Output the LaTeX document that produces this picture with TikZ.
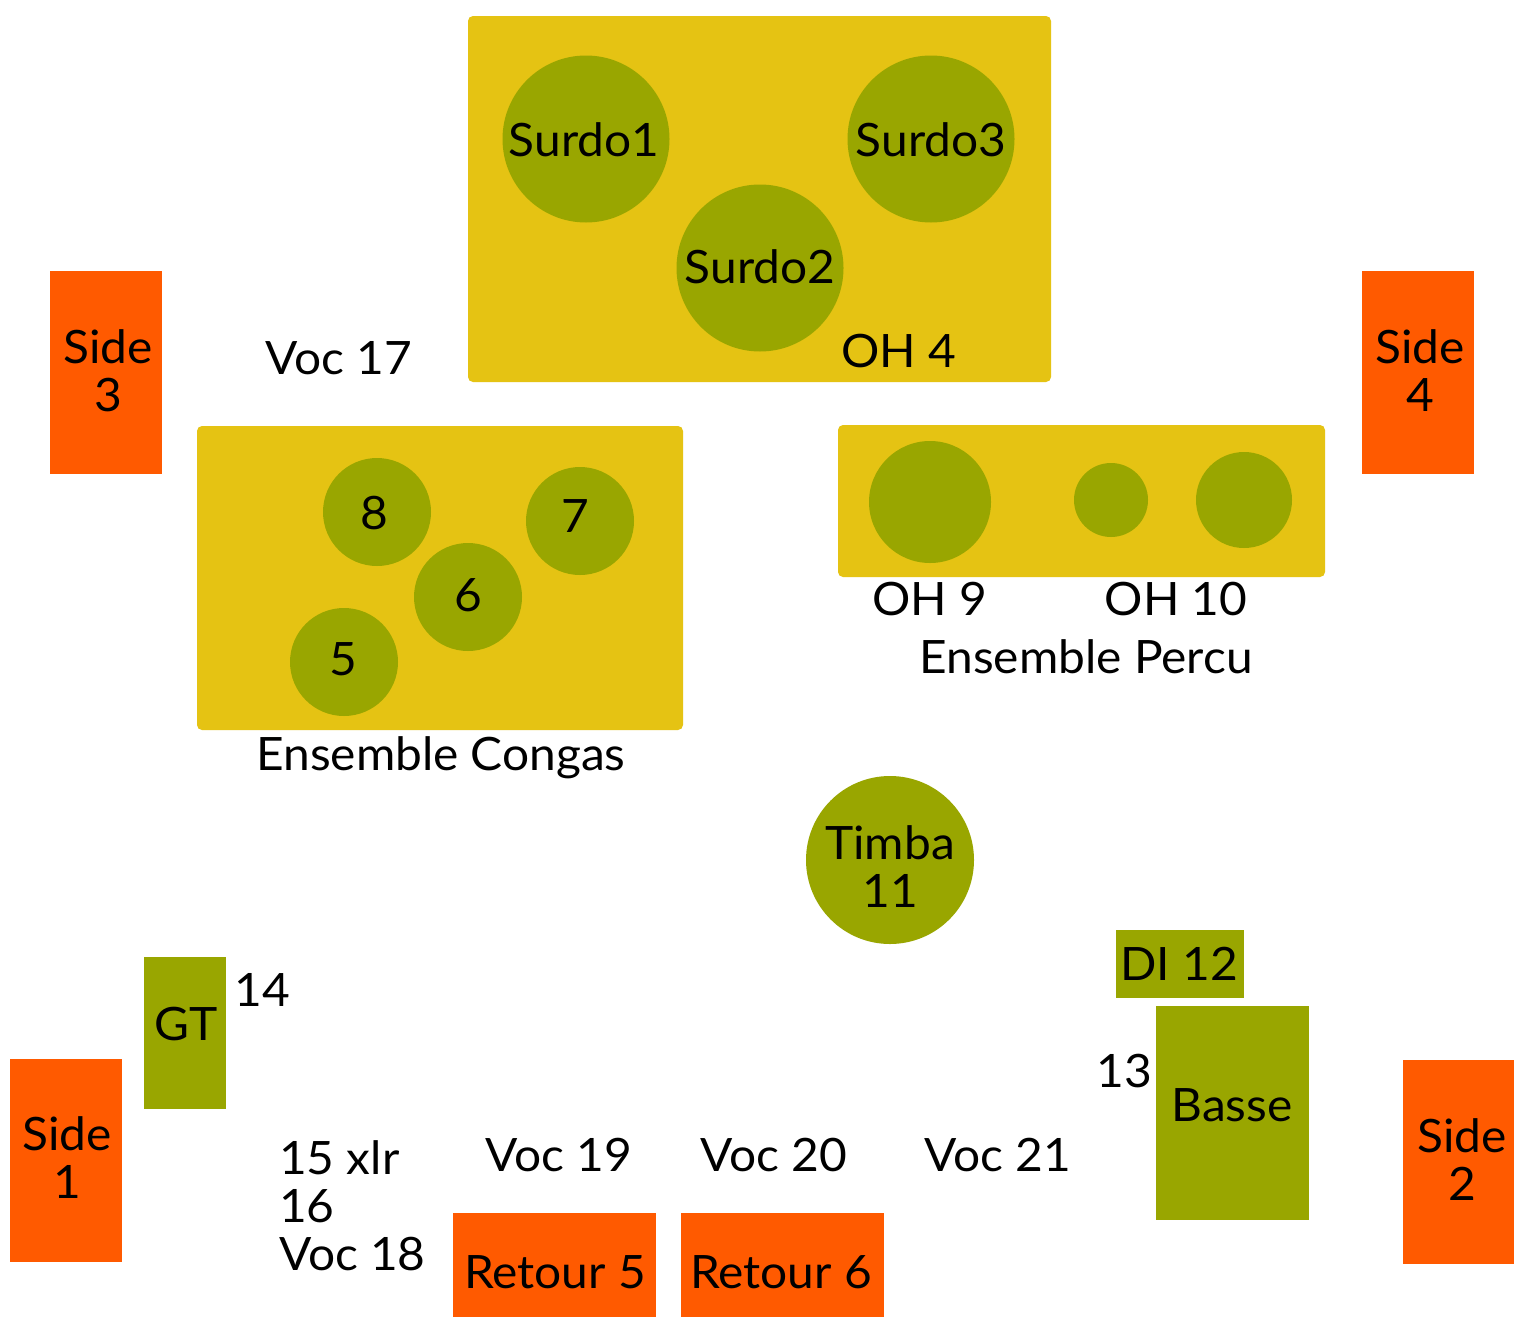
\documentclass[tikz,border=0pt]{standalone}
\usepackage{fontspec}
\setmainfont{Lato}[FakeStretch=1.04]
\definecolor{ylw}{HTML}{E5C313}
\definecolor{olv}{HTML}{99A600}
\definecolor{org}{HTML}{FF5A00}
\begin{document}
\begin{tikzpicture}[x=1pt,y=-1pt,
  every node/.style={font=\fontsize{46}{48}\selectfont},
  zone/.style={fill=ylw, rounded corners=5pt, inner sep=0pt},
  drum/.style={circle, fill=olv, inner sep=0pt, minimum size=#1},
  spk/.style={rectangle, fill=org, inner sep=0pt},
  amp/.style={rectangle, fill=olv, inner sep=0pt},
  txt/.style={anchor=base, inner sep=0pt},
  ltxt/.style={anchor=base west, inner sep=0pt}]
\useasboundingbox[fill=white] (0,0) rectangle (1514,1317);

% top surdo zone
\node[zone, minimum width=583, minimum height=366] (surdozone) at (759.5,199) {};
\node[drum=167] (surdo1) at (586,139) {};
\node[drum=167] (surdo3) at (931,139) {};
\node[drum=167] (surdo2) at (760,268) {};
\node[txt] (t-surdo1) at (584,156) {Surdo1};
\node[txt] (t-surdo3) at (931,156) {Surdo3};
\node[txt] (t-surdo2) at (760,283) {Surdo2};
\node[txt] (t-oh4) at (899,367) {OH 4};

% side speakers
\node[spk, minimum width=112, minimum height=203] (side3) at (106,372.5) {};
\node[txt] at (108,363) {Side};
\node[txt] at (108,411) {3};
\node[spk, minimum width=112, minimum height=203] (side4) at (1418,372.5) {};
\node[txt] at (1420,363) {Side};
\node[txt] at (1420,411) {4};

\node[txt] (voc17) at (339,374) {Voc 17};

% congas
\node[zone, minimum width=486, minimum height=304] (congas) at (440,578) {};
\node[drum=108] (c8) at (377,512) {};
\node[drum=108] (c7) at (580,521) {};
\node[drum=108] (c6) at (468,597) {};
\node[drum=108] (c5) at (344,662) {};
\node[txt] at (374,529) {8};
\node[txt] at (575,532) {7};
\node[txt] at (468,611) {6};
\node[txt] at (343,675) {5};
\node[txt] (t-congas) at (441,770) {Ensemble Congas};

% percu
\node[zone, minimum width=487, minimum height=152] (percu) at (1081.5,501) {};
\node[drum=122] (p1) at (930,502) {};
\node[drum=74] (p2) at (1111,500) {};
\node[drum=96] (p3) at (1244,500) {};
\node[txt] (oh9) at (930,615) {OH 9};
\node[txt] (oh10) at (1176,615) {OH 10};
\node[txt] (t-percu) at (1086,673) {Ensemble Percu};

% timba
\node[drum=168] (timba) at (890,860) {};
\node[txt] at (890,859) {Timba};
\node[txt] at (890,907) {11};

% bass
\node[amp, minimum width=128, minimum height=68] (di12) at (1180,964) {};
\node[txt] at (1179,980) {DI 12};
\node[amp, minimum width=153, minimum height=214] (basse) at (1232.5,1113) {};
\node[txt] at (1232,1121) {Basse};
\node[txt] (n13) at (1124,1087) {13};

% guitar
\node[amp, minimum width=82, minimum height=152] (gt) at (185,1033) {};
\node[txt] at (186,1040) {GT};
\node[txt] (n14) at (262,1006) {14};

% sides 1 and 2
\node[spk, minimum width=112, minimum height=203] (side1) at (66,1160.5) {};
\node[txt] at (67,1150) {Side};
\node[txt] at (67,1198) {1};
\node[spk, minimum width=111, minimum height=204] (side2) at (1458.5,1162) {};
\node[txt] at (1462,1152) {Side};
\node[txt] at (1462,1200) {2};

% vocals
\node[ltxt] (n15) at (279,1174) {15 xlr};
\node[ltxt] (n16) at (279,1222) {16};
\node[ltxt] (voc18) at (279,1270) {Voc 18};
\node[txt] (voc19) at (559,1171) {Voc 19};
\node[txt] (voc20) at (774,1171) {Voc 20};
\node[txt] (voc21) at (998,1171) {Voc 21};

% returns
\node[spk, minimum width=203, minimum height=104] (ret5) at (554.5,1265) {};
\node[txt] at (555,1288) {Retour 5};
\node[spk, minimum width=203, minimum height=104] (ret6) at (782.5,1265) {};
\node[txt] at (781,1288) {Retour 6};
\end{tikzpicture}
\end{document}
